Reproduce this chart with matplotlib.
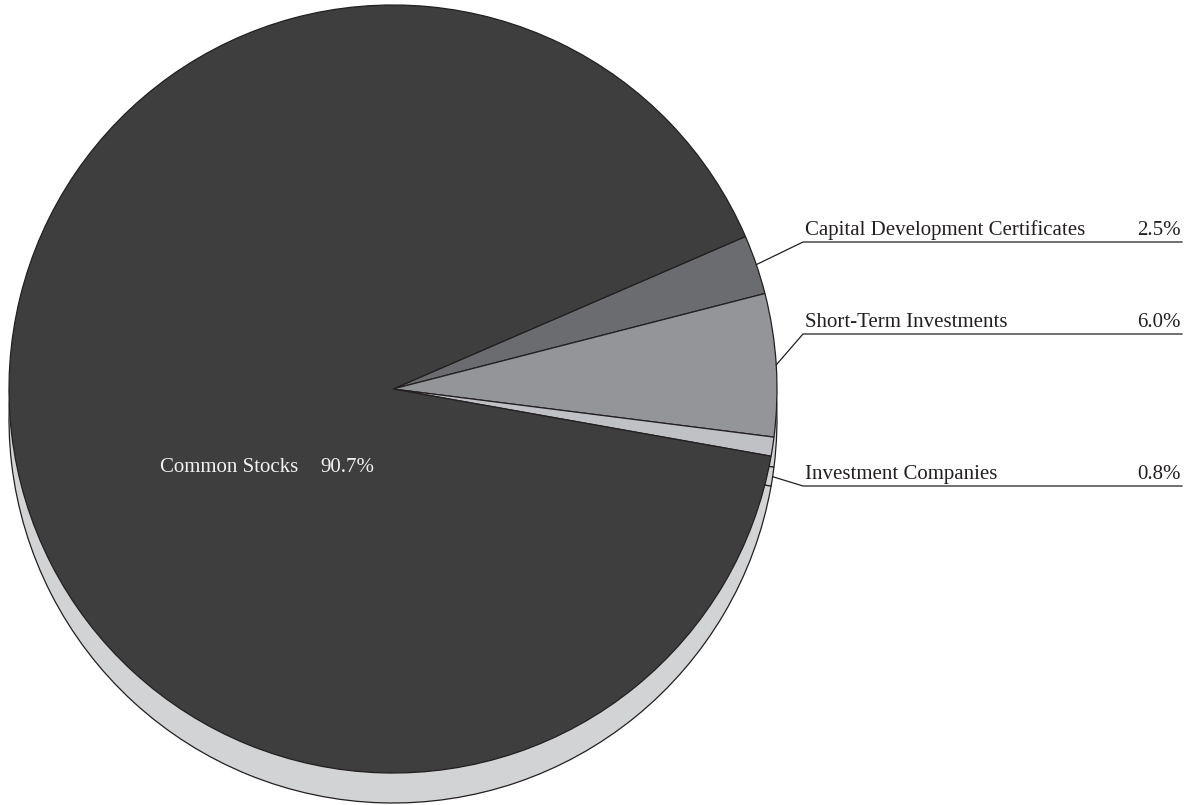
import numpy as np
import matplotlib
matplotlib.use("Agg")
import matplotlib.pyplot as plt

# portfolio breakdown, clockwise from the top of the small slices
sectors = ["Capital Development Certificates", "Short-Term Investments",
           "Investment Companies", "Common Stocks"]
shares = [2.5, 6.0, 0.8, 90.7]
share_labels = ["2.5%", "6.0%", "0.8%", "90.7%"]

face_colors = ["#6b6c6f", "#939598", "#bfc1c4", "#3e3e3e"]
side_color = "#d1d3d4"
edge = "#231f20"

W, H = 1197, 805
cx, cy, r = 393, H - 389, 384
depth = 30
start = 23.4

plt.rcParams["font.family"] = ["Liberation Serif", "DejaVu Serif"]

fig = plt.figure(figsize=(W / 100, H / 100), dpi=100)
ax = fig.add_axes([0, 0, 1, 1])

wp = dict(edgecolor=edge, linewidth=0.9, antialiased=True)
# pie thickness: a lighter copy shifted down
ax.pie(shares, startangle=start, counterclock=False, center=(cx, cy - depth),
       radius=r, colors=[side_color] * len(shares), wedgeprops=wp, frame=True)
ax.pie(shares, startangle=start, counterclock=False, center=(cx, cy),
       radius=r, colors=face_colors, wedgeprops=wp, frame=True)

ax.set_xlim(0, W)
ax.set_ylim(0, H)
ax.set_aspect("equal")
ax.axis("off")

# callouts for the small slices on the right
label_rows = [242, 334, 486]      # underline heights (from top)
anchor_drop = [0, 0, 1]           # 1: leader meets the side wall
x0, x1 = 803, 1182
angles = start - np.cumsum([0] + shares[:-1]) * 3.6 - np.array(shares) * 1.8
for i, row in enumerate(label_rows):
    th = np.radians(angles[i])
    ax_x = cx + r * np.cos(th)
    ax_y = cy - anchor_drop[i] * depth + r * np.sin(th)
    y = H - row
    ax.plot([ax_x, x0, x1], [ax_y, y, y], color=edge, lw=0.9)
    ax.text(x0 + 2, y + 7, sectors[i], fontsize=15, color=edge,
            ha="left", va="baseline")
    ax.text(x1 - 1, y + 7, share_labels[i], fontsize=15, color=edge,
            ha="right", va="baseline")

# label inside the large slice
ax.text(160, H - 472, sectors[3], fontsize=15, color="#f2f2f2",
        ha="left", va="baseline")
ax.text(320, H - 472, share_labels[3], fontsize=15, color="#f2f2f2",
        ha="left", va="baseline")

fig.savefig("out.png", dpi=100, facecolor="white")
